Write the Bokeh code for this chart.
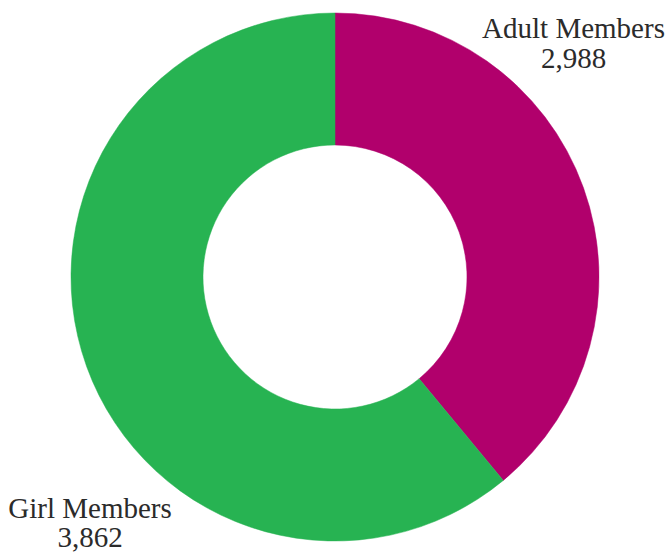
import math
import numpy as np
from bokeh.plotting import figure
from bokeh.models import Range1d, ColumnDataSource
from bokeh.core.properties import value
from bokeh.embed import file_html
from bokeh.resources import INLINE

# Data
categories = ["Adult Members", "Girl Members"]
counts = [2988, 3862]
# share of the ring each slice occupies, as drawn in the picture (percent)
shares = [39.0, 61.0]
colors = ["#B1006C", "#27B352"]

W, H = 668, 553
p = figure(width=W, height=H, output_backend="svg", toolbar_location=None,
           x_range=Range1d(0, W), y_range=Range1d(0, H),
           min_border=0)
p.axis.visible = False
p.grid.visible = False
p.outline_line_color = None
p.background_fill_color = "white"
p.border_fill_color = "white"

cx, cy = 334.5, H - 276.5
r_out, r_in = 264, 132

frac = np.array(shares) / sum(shares)
cum = np.concatenate([[0], np.cumsum(frac)])
start = [math.pi / 2 - 2 * math.pi * cum[i] for i in range(len(frac))]
end = [math.pi / 2 - 2 * math.pi * cum[i + 1] for i in range(len(frac))]

src = ColumnDataSource(dict(start=start, end=end, color=colors, cat=categories))
p.annular_wedge(x=cx, y=cy, inner_radius=r_in, outer_radius=r_out,
                start_angle="start", end_angle="end", direction="clock",
                fill_color="color", line_color="color", line_width=0.5, source=src)

# labels (centre x, baseline y measured from page top)
lab_x = [573, 89.5]
lab_y1 = [H - 27, H - 507]
lab_y2 = [H - 58, H - 537]
num_txt = [f"{c:,}" for c in counts]

for t, x, y in [(categories, lab_x, lab_y1), (num_txt, lab_x, lab_y2)]:
    p.text(x=x, y=y, text=t, text_align="center", text_baseline="alphabetic",
           text_font=value("Liberation Serif"), text_font_size="29px",
           text_color="#2b2b2b")

open("out.html", "w").write(file_html(p, INLINE))
